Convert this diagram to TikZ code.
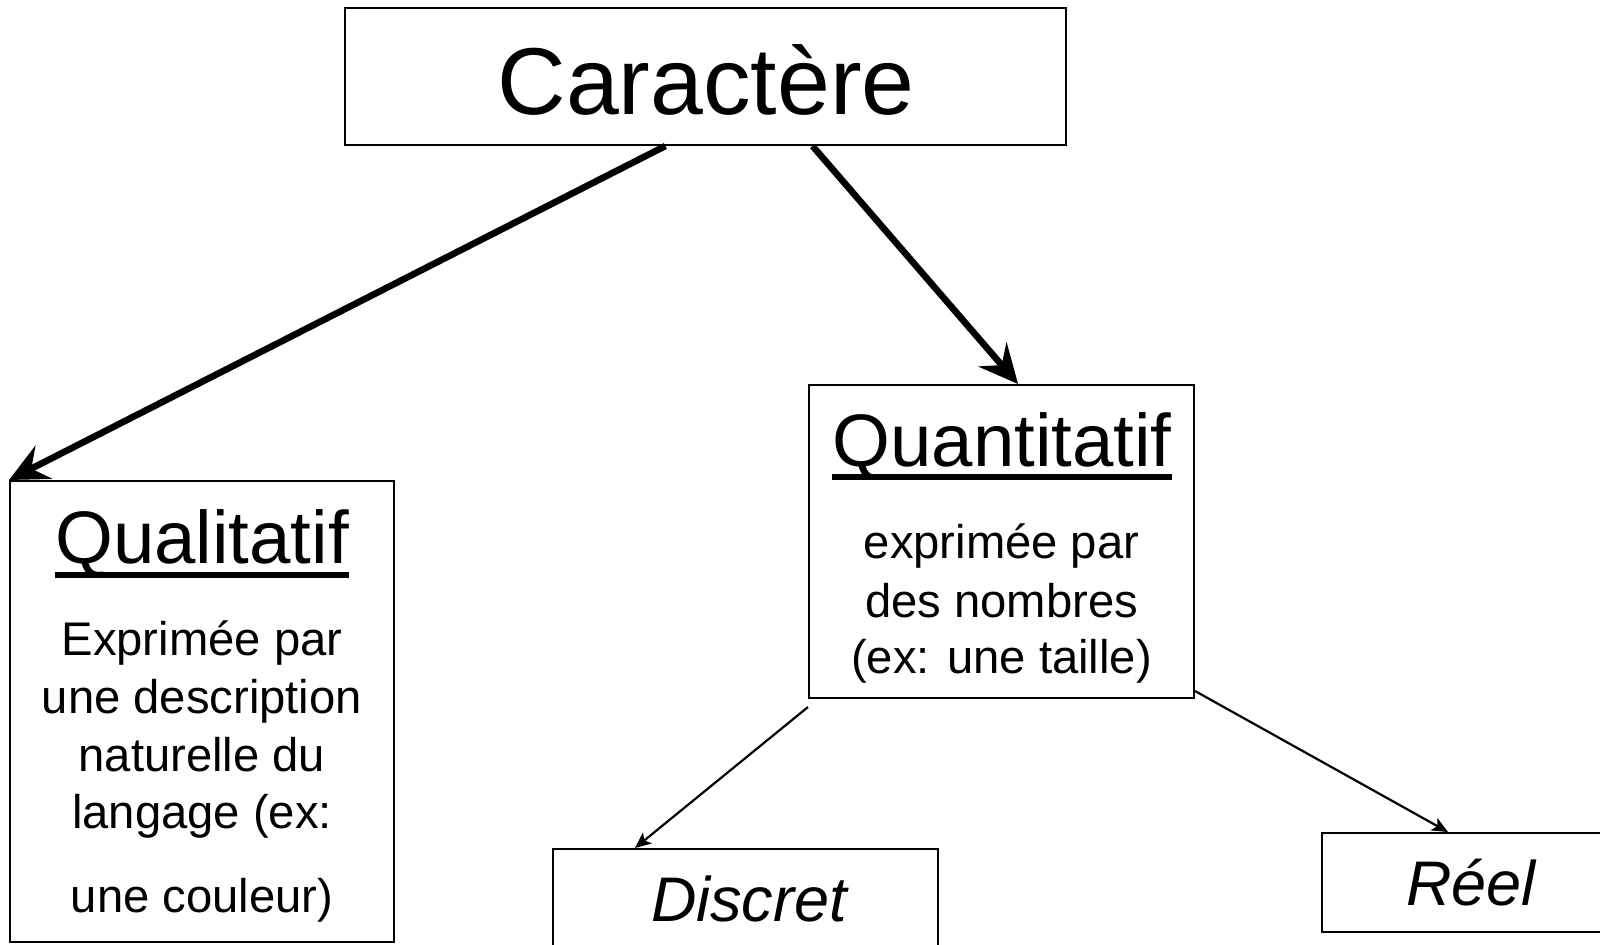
\documentclass[tikz,border=0pt]{standalone}
\usepackage{fontspec}
\setmainfont{Liberation Sans}
\usetikzlibrary{arrows.meta}
\begin{document}
\begin{tikzpicture}[x=0.5pt,y=-0.5pt,
  box/.style={draw, line width=1pt, inner sep=0pt},
  bigtxt/.style={anchor=base, inner sep=0pt, font=\fontsize{47.5}{57}\selectfont},
  titletxt/.style={anchor=base, inner sep=0pt, font=\fontsize{37.2}{45}\selectfont},
  bodytxt/.style={anchor=base, inner sep=0pt, font=\fontsize{23.6}{28}\selectfont},
  leaftxt/.style={anchor=base, inner sep=0pt, font=\fontsize{31.5}{38}\selectfont\itshape},
  uline/.style={line width=2.75pt},
  thickarr/.style={line width=3.3pt, -{Stealth[length=19.5pt,width=18.5pt,inset=7pt]}},
  thinarr/.style={line width=1.1pt, -{Stealth[length=8pt,width=7pt,inset=2pt]}}]
\useasboundingbox (0,0) rectangle (1600,944);
\clip (0,0) rectangle (1600,944);
\fill[white] (0,0) rectangle (1600,944);
% boxes
\node[box, minimum width=360.5pt, minimum height=68.5pt] (car) at (705.5,76.5) {};
\node[box, minimum width=192pt, minimum height=230.5pt] (qual) at (202,711.5) {};
\node[box, minimum width=192.5pt, minimum height=156.5pt] (quant) at (1001.5,541.5) {};
\node[box, minimum width=192.5pt, minimum height=60.5pt] (disc) at (745.5,909.5) {};
\node[box, minimum width=149pt, minimum height=49.5pt] (reel) at (1471,882.5) {};
% texts
\node[bigtxt] (cart) at (706,114) {Caractère};
\node[titletxt] (qualt) at (202,563) {Qualitatif};
\draw[uline] ([yshift=-6pt]qualt.base west) -- ([yshift=-6pt]qualt.base east);
\node[bodytxt] (ql1) at (202,655) {Exprimée par};
\node[bodytxt] (ql2) at (202,713) {une description};
\node[bodytxt] (ql3) at (202,771) {naturelle du};
\node[bodytxt] (ql4) at (202,828) {langage (ex:};
\node[bodytxt] (ql5) at (202,912) {une couleur)};
\node[titletxt] (quantt) at (1002,466) {Quantitatif};
\draw[uline] ([yshift=-5.5pt]quantt.base west) -- ([yshift=-5.5pt]quantt.base east);
\node[bodytxt] (qn1) at (1001.5,558) {exprimée par};
\node[bodytxt] (qn2) at (1001.5,617) {des nombres};
\node[bodytxt] (qn3) at (1001.5,673) {(ex: une taille)};
\node[leaftxt] (disct) at (749,921) {Discret};
\node[leaftxt] (reelt) at (1471,905) {Réel};
% connectors
\draw[thickarr] (car.240) -- (qual.north west);
\draw[thickarr] (car.-33.5) -- (quant.84.4);
\draw[thinarr] ([yshift=-4pt]quant.south west) -- ([xshift=-55.25pt]disc.north);
\draw[thinarr] ([yshift=4pt]quant.south east) -- ([xshift=63.5pt]reel.north west);
\end{tikzpicture}
\end{document}
